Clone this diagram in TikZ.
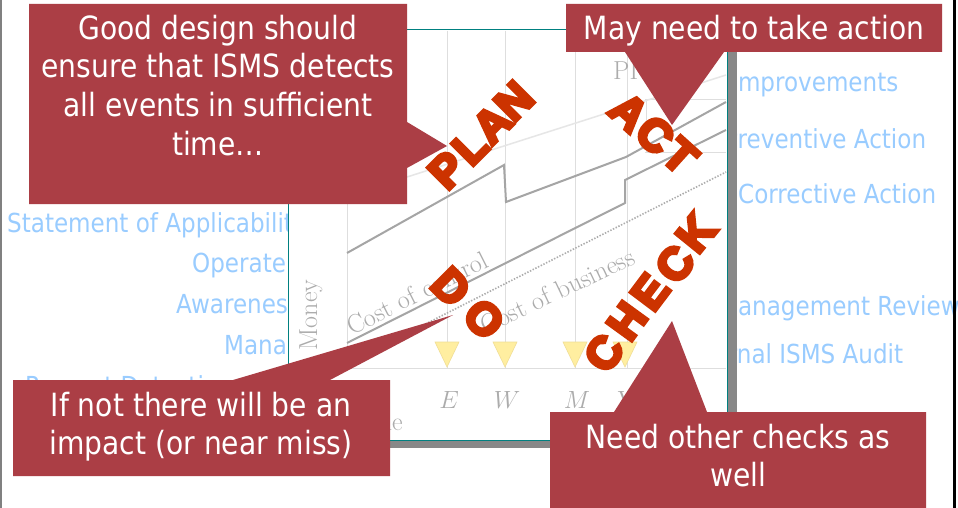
\documentclass[tikz,border=0pt]{standalone}
\usepackage{fontspec}
\newfontfamily\callfont[FakeStretch=0.88]{DejaVu Sans}
\newfontfamily\pdcafont[FakeBold=8]{Liberation Sans Bold}
\definecolor{calloutred}{RGB}{171,62,69}
\definecolor{pdcaorange}{RGB}{204,51,0}
\definecolor{lblue}{RGB}{153,204,255}
\definecolor{chartteal}{RGB}{0,128,128}
\definecolor{chartgray}{RGB}{172,172,172}
\definecolor{linegray}{RGB}{165,165,165}
\definecolor{gridgray}{RGB}{222,222,222}
\definecolor{faintgray}{RGB}{230,230,230}
\definecolor{shadowgray}{RGB}{136,136,136}
\definecolor{trifill}{RGB}{255,238,160}
\definecolor{tridraw}{RGB}{240,222,150}
\begin{document}
\begin{tikzpicture}[x=1pt,y=-1pt,
  bluelbl/.style={font=\callfont\fontsize{26.2}{30}\selectfont, text=lblue, anchor=base west, inner sep=0pt},
  calltxt/.style={font=\callfont\fontsize{32}{38}\selectfont, text=white, anchor=base, inner sep=0pt},
  callbox/.style={fill=calloutred, draw=none},
  pdcaletter/.style={font=\pdcafont\fontsize{45}{45}\selectfont, text=pdcaorange, inner sep=0pt},
  charttxt/.style={font=\fontsize{26}{30}\selectfont, text=chartgray, inner sep=0pt},
  gridline/.style={draw=gridgray, line width=1pt},
  graphline/.style={draw=linegray, line width=2pt, line join=miter},
  dotline/.style={draw=chartgray, line width=1.6pt, dash pattern=on 1.4pt off 1.6pt},
  faintline/.style={draw=faintgray, line width=1.5pt},
  marker/.style={fill=trifill, draw=tridraw, line width=0.6pt},
  shadowbar/.style={fill=shadowgray}
]
\useasboundingbox (0,0) rectangle (958,508);
\clip (0,0) rectangle (958,508);
\fill[white] (0,0) rectangle (958,508);

% --- blue list labels (partly behind the chart) ---
\node[bluelbl] (soa) at (7,232) {Statement of Applicability};
\node[bluelbl] (oper) at (192,272) {Operate};
\node[bluelbl] (aware) at (176,313) {Awareness};
\node[bluelbl] (mana) at (224,354) {Management};
\node[bluelbl] (prev) at (25,395) {Prevent Detection};
\node[bluelbl] (impr) at (731,92) {Improvements};
\node[bluelbl] (preva) at (724,148) {Preventive Action};
\node[bluelbl] (corr) at (738,203) {Corrective Action};
\node[bluelbl] (mgmt) at (718,315) {Management Review};
\node[bluelbl] (audit) at (683,363) {Internal ISMS Audit};

% --- chart frame ---
\fill[shadowbar] (728,38) rectangle (737,448);
\fill[shadowbar] (296,441) rectangle (737,448);
\draw[chartteal, fill=white, line width=1pt] (288,30) rectangle (727,440);

% grid
\foreach \gx in {347,447,505,575,627} \draw[gridline] (\gx,31) -- (\gx,368);
\draw[gridline] (347,368) -- (726,368);
\draw[gridline] (645,100) -- (726,100);
\draw[gridline] (645,152) -- (726,152);
\draw[gridline] (646,100) -- (646,152);

% graph lines
\draw[faintline] (407,177) -- (726,75);
\draw[graphline] (347,253) -- (504,165) -- (506,202) -- (626,157) -- (726,102);
\draw[graphline] (347,343) -- (625,203) -- (625,180) -- (726,130);
\draw[dotline] (372,351) -- (726,172);

% chart texts
\node[charttxt, rotate=90] (money) at (311,315) {Money};
\node[charttxt, rotate=26.7, anchor=base west] (coc) at (352,336) {Cost of control};
\node[charttxt, rotate=25.4, anchor=base east] (cob) at (637,263) {Cost of business};
\node[charttxt, anchor=base east] (time) at (403,430) {Time};
\node[charttxt, anchor=base west] (pl) at (613,80) {PI};

% markers and axis letters
\foreach \mx/\ml in {447/E,505/W,575/M,625/Y} {
  \fill[marker] (\mx-12,342) -- (\mx+12,342) -- (\mx,367) -- cycle;
  \node[charttxt, anchor=base] (lab\ml) at (\mx+2,408) {$\ml$};
}

% --- PDCA letters ---
\node[pdcaletter, rotate=45] (pP) at (447,170) {P};
\node[pdcaletter, rotate=45] (pL) at (470,147) {L};
\node[pdcaletter, rotate=45] (pA) at (492,124) {A};
\node[pdcaletter, rotate=45] (pN) at (514,101) {N};

\node[pdcaletter, rotate=-42] (aA) at (629,112) {A};
\node[pdcaletter, rotate=-42] (aC) at (655,135) {C};
\node[pdcaletter, rotate=-42] (aT) at (680,156) {T};

\node[pdcaletter, rotate=-45] (dD) at (451,287) {D};
\node[pdcaletter, rotate=-45] (dO) at (484,319) {O};

\node[pdcaletter, rotate=55] (cC1) at (604,353) {C};
\node[pdcaletter, rotate=54] (cH) at (627,321) {H};
\node[pdcaletter, rotate=53] (cE) at (650,292) {E};
\node[pdcaletter, rotate=52] (cC2) at (675,264) {C};
\node[pdcaletter, rotate=51] (cK) at (696,233) {K};

% --- callouts ---
\fill[callbox] (29,4) -- (407,4) -- (407,122) -- (447,146) -- (407,168) -- (407,204) -- (29,204) -- cycle;
\node[calltxt] (c1a) at (218,40) {Good design should};
\node[calltxt] (c1b) at (218,78) {ensure that ISMS detects};
\node[calltxt] (c1c) at (218,117) {all events in sufficient};
\node[calltxt] (c1d) at (218,155) {time…};

\fill[callbox] (566,4) -- (942,4) -- (942,52) -- (724,52) -- (672,125) -- (625,52) -- (566,52) -- cycle;
\node[calltxt] (c2a) at (754,40) {May need to take action};

\fill[callbox] (13,380) -- (233,380) -- (453,315) -- (330,380) -- (390,380) -- (390,476) -- (13,476) -- cycle;
\node[calltxt] (c3a) at (201,416) {If not there will be an};
\node[calltxt] (c3b) at (201,454) {impact (or near miss)};

\fill[callbox] (550,412) -- (614,412) -- (672,321) -- (707,412) -- (926,412) -- (926,512) -- (550,512) -- cycle;
\node[calltxt] (c4a) at (738,448) {Need other checks as};
\node[calltxt] (c4b) at (738,486) {well};

% --- page edges ---
\fill[gray] (0,0) rectangle (2,508);
\fill[black] (953,0) rectangle (956,508);
\end{tikzpicture}
\end{document}
